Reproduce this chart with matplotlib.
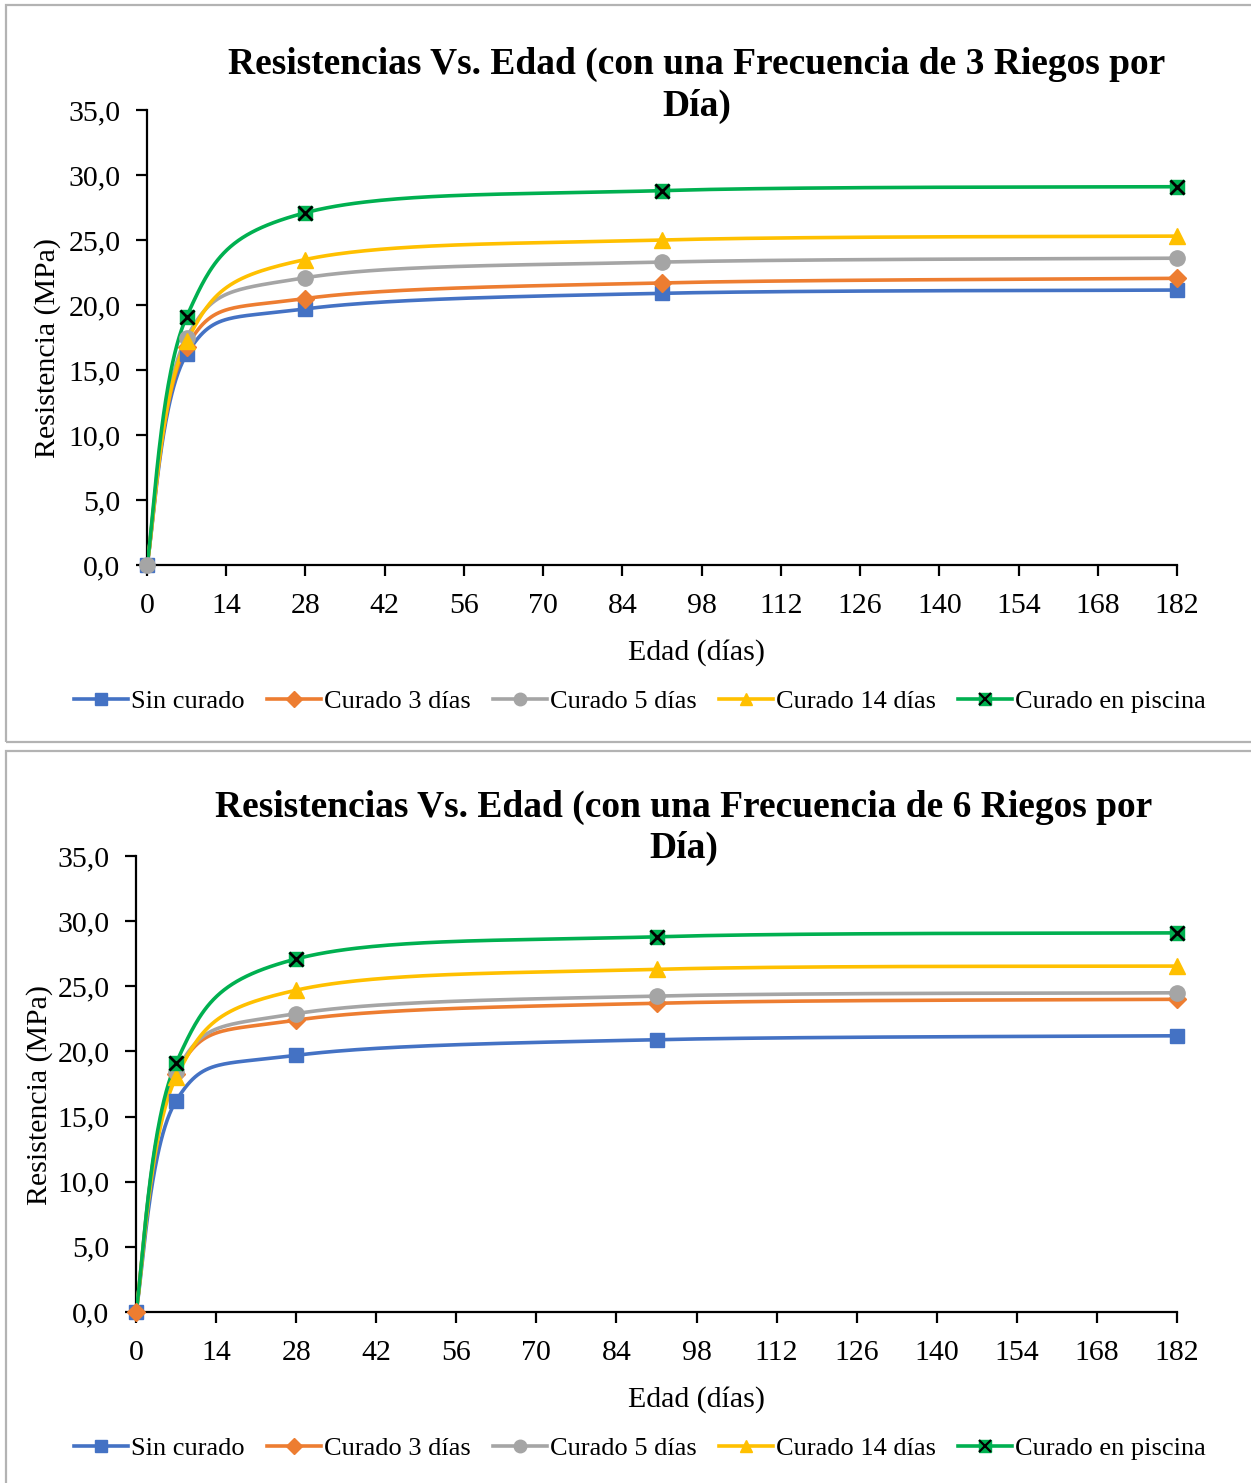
"""Resistencias vs. edad para dos frecuencias de riego (3 y 6 riegos por dia)."""

import matplotlib

matplotlib.use("Agg")
import matplotlib.pyplot as plt
import numpy as np
from matplotlib.legend_handler import HandlerTuple
from matplotlib.lines import Line2D
from matplotlib.patches import Rectangle
from matplotlib.ticker import FuncFormatter

plt.rcParams["font.family"] = ["Liberation Serif", "DejaVu Serif"]

# ---- data -------------------------------------------------------------
edad = [0, 7, 28, 91, 182]
series_names = ["Sin curado", "Curado 3 días", "Curado 5 días",
                "Curado 14 días", "Curado en piscina"]

riego3_sin = [0.0, 16.2, 19.7, 20.9, 21.15]
riego3_c3 = [0.0, 16.8, 20.5, 21.7, 22.05]
riego3_c5 = [0.0, 17.5, 22.1, 23.3, 23.6]
riego3_c14 = [0.0, 17.2, 23.5, 25.0, 25.3]
riego3_pisc = [0.0, 19.1, 27.1, 28.8, 29.1]

riego6_sin = [0.0, 16.2, 19.7, 20.9, 21.2]
riego6_c3 = [0.0, 18.3, 22.4, 23.7, 24.0]
riego6_c5 = [0.0, 18.4, 22.9, 24.25, 24.5]
riego6_c14 = [0.0, 18.0, 24.7, 26.3, 26.55]
riego6_pisc = [0.0, 19.1, 27.1, 28.8, 29.1]

titles = ["Resistencias Vs. Edad (con una Frecuencia de 3 Riegos por\nDía)",
          "Resistencias Vs. Edad (con una Frecuencia de 6 Riegos por\nDía)"]

# ---- style ------------------------------------------------------------
COLORS = ["#4472C4", "#ED7D31", "#A5A5A5", "#FFC000", "#00B050"]
MARKERS = ["s", "D", "o", "^", "s"]
MSIZES = [10, 9, 11, 11, 10]
W, H = 1251, 1483
FS = 21.5


def smooth_curve(x, y, n=60):
    """Excel-like smoothed line: cubic Bezier with Catmull-Rom controls."""
    pts = np.column_stack([x, y]).astype(float)
    ext = np.vstack([pts[0], pts, pts[-1]])
    t = np.linspace(0, 1, n)[:, None]
    out = []
    for i in range(len(pts) - 1):
        p0, p1, p2, p3 = ext[i], ext[i + 1], ext[i + 2], ext[i + 3]
        c1 = p1 + (p2 - p0) / 6.0
        c2 = p2 - (p3 - p1) / 6.0
        seg = ((1 - t) ** 3) * p1 + 3 * ((1 - t) ** 2) * t * c1 \
            + 3 * (1 - t) * t ** 2 * c2 + t ** 3 * p2
        out.append(seg if i == 0 else seg[1:])
    out = np.vstack(out)
    return out[:, 0], out[:, 1]


def draw_chart(fig, rect, data, title, title_xy, ylabel_xy, origin_markers):
    ax = fig.add_axes(rect)
    for k, vals in enumerate(data):
        xs, ys = smooth_curve(edad, vals)
        ax.plot(xs, ys, color=COLORS[k], lw=2.6, zorder=2 + k, solid_capstyle="round")
        idx = [i for i in range(len(edad)) if i > 0 or k in origin_markers]
        px = [edad[i] for i in idx]
        py = [vals[i] for i in idx]
        ax.plot(px, py, ls="none", marker=MARKERS[k], ms=MSIZES[k],
                mfc=COLORS[k], mec=COLORS[k], zorder=10 + k, clip_on=False)
        if k == 4:
            ax.plot(px, py, ls="none", marker="x", ms=10, mew=2.0,
                    color="black", zorder=20, clip_on=False)

    ax.set_xlim(0, 182)
    ax.set_ylim(0, 35)
    ax.set_xticks(np.arange(0, 183, 14))
    ax.set_yticks(np.arange(0, 35.1, 5))
    ax.yaxis.set_major_formatter(FuncFormatter(lambda v, p: f"{v:.1f}".replace(".", ",")))
    for s in ["top", "right"]:
        ax.spines[s].set_visible(False)
    for s in ["left", "bottom"]:
        ax.spines[s].set_linewidth(1.6)
        ax.spines[s].set_color("black")
    ax.tick_params(axis="both", direction="out", length=8, width=1.6,
                   labelsize=FS, colors="black")
    ax.tick_params(axis="x", pad=12)
    ax.tick_params(axis="y", pad=11)

    fig.text(title_xy[0] / W, 1 - title_xy[1] / H, title, ha="center", va="center",
             fontsize=27, fontweight="bold", linespacing=1.25)
    bottom_px = (1 - rect[1]) * H
    fig.text(696 / W, 1 - (bottom_px + 88) / H, "Edad (días)", ha="center",
             va="center", fontsize=FS)
    fig.text(ylabel_xy[0] / W, 1 - ylabel_xy[1] / H, "Resistencia (MPa)", ha="center",
             va="center", rotation=90, fontsize=FS)

    handles = []
    for k in range(5):
        h = Line2D([], [], color=COLORS[k], lw=2.6, marker=MARKERS[k],
                   ms=8 if k != 2 else 9, mfc=COLORS[k], mec=COLORS[k])
        if k == 4:
            h = (h, Line2D([], [], ls="none", marker="x", ms=8, mew=1.6, color="black"))
        handles.append(h)
    fig.legend(handles, series_names, loc="center", ncol=5, frameon=False,
               bbox_to_anchor=(640 / W, 1 - (bottom_px + 136) / H),
               fontsize=19, handlelength=2.05, handletextpad=0.1,
               columnspacing=0.85, handler_map={tuple: HandlerTuple(ndivide=1)})
    return ax


fig = plt.figure(figsize=(W / 100, H / 100), dpi=100)

fig.patches.append(Rectangle((6 / W, 1 - 742 / H), 1.0, (742 - 5) / H,
                             transform=fig.transFigure, fill=False,
                             ec="#b3b3b3", lw=1.6))
fig.patches.append(Rectangle((6 / W, -0.01), 1.0, 0.01 + (H - 751) / H,
                             transform=fig.transFigure, fill=False,
                             ec="#b3b3b3", lw=1.6))

draw_chart(fig, [147 / W, 1 - 565 / H, 1030 / W, 455 / H],
           [riego3_sin, riego3_c3, riego3_c5, riego3_c14, riego3_pisc],
           titles[0], (697, 85), (48, 348), origin_markers={0, 2})
draw_chart(fig, [136 / W, 1 - 1312 / H, 1041 / W, 456 / H],
           [riego6_sin, riego6_c3, riego6_c5, riego6_c14, riego6_pisc],
           titles[1], (684, 828), (40, 1095), origin_markers={0, 1})

fig.savefig("out.png", dpi=100)
